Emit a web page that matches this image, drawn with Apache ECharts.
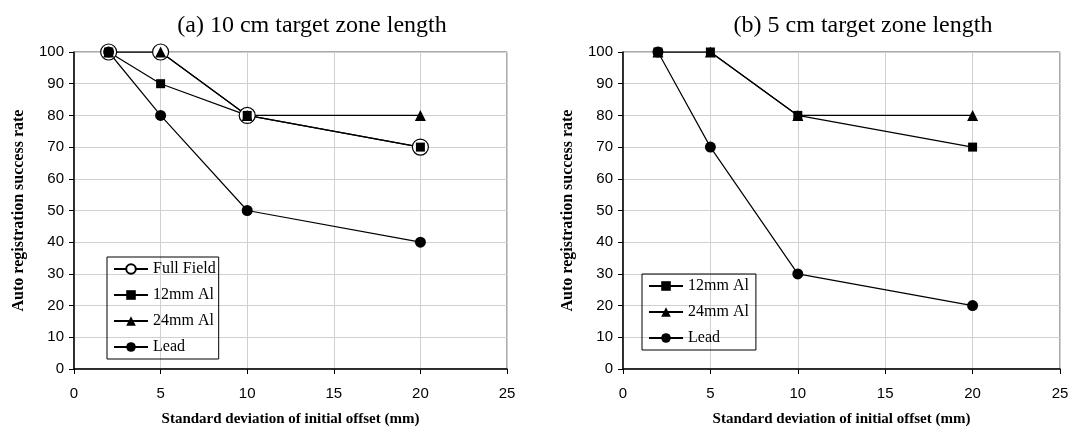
<!DOCTYPE html>
<html>
<head>
<meta charset="utf-8">
<script src="https://cdn.jsdelivr.net/npm/echarts@6/dist/echarts.min.js"></script>
<style>
  html, body { margin: 0; padding: 0; background: #fff; }
  #chart { width: 1083px; height: 432px; }
</style>
</head>
<body>
<div id="chart"></div>
<script>
// x values (mm)
const offsets = [2, 5, 10, 20];

// (a) 10 cm target zone
const aFullField = [100, 100, 80, 70];
const a12mm = [100, 90, 80, 70];
const a24mm = [100, 100, 80, 80];
const aLead = [100, 80, 50, 40];

// (b) 5 cm target zone
const b12mm = [100, 100, 80, 70];
const b24mm = [100, 100, 80, 80];
const bLead = [100, 70, 30, 20];

const serif = '"Liberation Serif", "Times New Roman", serif';
const sans = '"Liberation Sans", Arial, sans-serif';

const pts = (ys) => offsets.map((x, i) => [x, ys[i]]);

function xAxisFor(idx) {
  return {
    gridIndex: idx, type: 'value', min: 0, max: 25, interval: 5,
    name: 'Standard deviation of initial offset (mm)',
    nameLocation: 'middle', nameGap: 43,
    nameTextStyle: { fontFamily: serif, fontWeight: 'bold', fontSize: 15, color: '#000' },
    axisLine: { lineStyle: { color: '#000', width: 1.5 } },
    axisTick: { show: true, length: 5, lineStyle: { color: '#000' } },
    axisLabel: { fontFamily: sans, fontSize: 15, color: '#000', margin: 17 },
    splitLine: { show: true, lineStyle: { color: '#d0d0d0' } }
  };
}
function yAxisFor(idx) {
  return {
    gridIndex: idx, type: 'value', min: 0, max: 100, interval: 10,
    name: 'Auto registration success rate',
    nameLocation: 'middle', nameGap: 47,
    nameTextStyle: { fontFamily: serif, fontWeight: 'bold', fontSize: 16, color: '#000' },
    axisLine: { show: true, lineStyle: { color: '#000', width: 1.5 } },
    axisTick: { show: true, length: 5, lineStyle: { color: '#000' } },
    axisLabel: { fontFamily: sans, fontSize: 15, color: '#000', margin: 10 },
    splitLine: { show: true, lineStyle: { color: '#d0d0d0' } }
  };
}

const lineStyle = { color: '#000', width: 1.2 };
const itemStyle = { color: '#000' };

function seriesFor(name, data, idx, symbol, size) {
  return {
    name: name, type: 'line', xAxisIndex: idx, yAxisIndex: idx,
    data: pts(data), symbol: symbol, symbolSize: size,
    lineStyle: lineStyle, itemStyle: itemStyle, animation: false
  };
}

const legendBase = {
  orient: 'vertical',
  itemWidth: 34, itemHeight: 12, itemGap: 10,
  borderColor: '#000', borderWidth: 1, borderRadius: 0, padding: [4, 3, 4, 6],
  textStyle: { fontFamily: serif, fontSize: 16, color: '#000' }
};

const chart = echarts.init(document.getElementById('chart'));
chart.setOption({
  backgroundColor: '#fff',
  title: [
    { text: '(a) 10 cm target zone length', left: 307, top: 9, textAlign: 'center',
      textStyle: { fontFamily: serif, fontWeight: 'normal', fontSize: 24, color: '#000' } },
    { text: '(b) 5 cm target zone length', left: 858, top: 9, textAlign: 'center',
      textStyle: { fontFamily: serif, fontWeight: 'normal', fontSize: 24, color: '#000' } }
  ],
  grid: [
    { left: 74, right: 576, top: 52, bottom: 63, show: true, borderColor: '#555', borderWidth: 1 },
    { left: 623, right: 23, top: 52, bottom: 63, show: true, borderColor: '#555', borderWidth: 1 }
  ],
  xAxis: [xAxisFor(0), xAxisFor(1)],
  yAxis: [yAxisFor(0), yAxisFor(1)],
  legend: [
    Object.assign({ data: ['Full Field', '12mm Al', '24mm Al', 'Lead'], left: 107, top: 257 }, legendBase),
    Object.assign({ data: ['12mm Al ', '24mm Al ', 'Lead '], left: 642, top: 274 }, legendBase)
  ],
  series: [
    {
      name: 'Full Field', type: 'line', xAxisIndex: 0, yAxisIndex: 0,
      data: pts(aFullField), symbol: 'circle', symbolSize: 16,
      lineStyle: lineStyle,
      itemStyle: { color: '#fff', borderColor: '#000', borderWidth: 1.2 },
      animation: false
    },
    seriesFor('12mm Al', a12mm, 0, 'rect', 9),
    seriesFor('24mm Al', a24mm, 0, 'triangle', 11),
    seriesFor('Lead', aLead, 0, 'circle', 11),
    seriesFor('12mm Al ', b12mm, 1, 'rect', 9),
    seriesFor('24mm Al ', b24mm, 1, 'triangle', 11),
    seriesFor('Lead ', bLead, 1, 'circle', 11)
  ]
});
</script>
</body>
</html>
